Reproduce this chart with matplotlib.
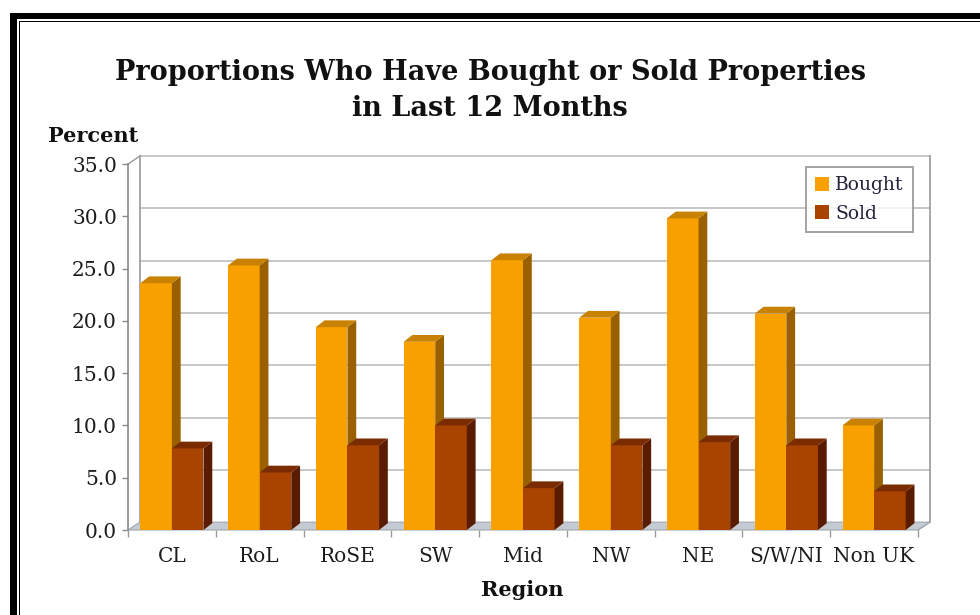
import matplotlib
matplotlib.use('Agg')
import matplotlib.pyplot as plt
from matplotlib.patches import Polygon, Patch, Rectangle

# ── data ────────────────────────────────────────────────────────────────
regions = ['CL', 'RoL', 'RoSE', 'SW', 'Mid', 'NW', 'NE', 'S/W/NI', 'Non UK']
bought = [23.6, 25.3, 19.4, 18.0, 25.8, 20.3, 29.8, 20.7, 10.0]
sold = [7.8, 5.5, 8.1, 10.0, 4.0, 8.1, 8.4, 8.1, 3.7]
yticks = [0, 5, 10, 15, 20, 25, 30, 35]

W, H, DPI = 980, 615, 100
fig = plt.figure(figsize=(W / DPI, H / DPI), dpi=DPI, facecolor='white')

SERIF = 'DejaVu Serif'
INK = '#1c1c1c'

def px_axes(x0, y0, x1, y1):
    # axes box given in image pixels (y down)
    return fig.add_axes([x0 / W, 1 - y1 / H, (x1 - x0) / W, (y1 - y0) / H])

# ── outer frame (thick + thin black line, top and left) ────────────────
frame = fig.add_axes([0, 0, 1, 1])
frame.set_xlim(0, W)
frame.set_ylim(H, 0)
frame.axis('off')
frame.add_patch(Rectangle((10, 13), W, 6, fc='black', ec='none'))
frame.add_patch(Rectangle((10, 13), 7, H, fc='black', ec='none'))
frame.add_patch(Rectangle((18.5, 20.5), W, 1.4, fc='black', ec='none'))
frame.add_patch(Rectangle((18.5, 20.5), 1.4, H, fc='black', ec='none'))

# ── plot area ───────────────────────────────────────────────────────────
ax = px_axes(128, 164, 918, 530)
n = len(regions)
ax.set_xlim(0, n)
ax.set_ylim(0, 35)
ax.patch.set_alpha(0)

DXW, DYW = 0.135, 0.75     # back-wall depth offset
DX, DY = 0.10, 0.65        # bar depth offset
BW = 0.36
GRID = '#b8b8b8'

# back wall grid + edges
for v in yticks[1:]:
    ax.plot([DXW, n + DXW], [v + DYW, v + DYW], color=GRID, lw=1.1, zorder=1,
            clip_on=False)
ax.plot([DXW, DXW], [DYW, 35 + DYW], color='#9a9a9a', lw=1.2, zorder=1, clip_on=False)
ax.plot([n + DXW, n + DXW], [DYW, 35 + DYW], color='#9a9a9a', lw=1.2, zorder=1,
        clip_on=False)
ax.plot([0, DXW], [35, 35 + DYW], color='#9a9a9a', lw=1.0, zorder=1, clip_on=False)
ax.plot([n, n + DXW], [0, DYW], color='#9a9a9a', lw=1.0, zorder=1, clip_on=False)

# floor
ax.add_patch(Polygon([(0, 0), (n, 0), (n + DXW, DYW), (DXW, DYW)],
                     closed=True, fc='#c3cad2', ec='#a0a7ae', lw=0.8, zorder=1.5,
                     clip_on=False))

def bar3d(x, v, front, side, top):
    ax.bar(x, v, width=BW, align='edge', color=front, edgecolor='none', zorder=3)
    ax.add_patch(Polygon([(x + BW, 0), (x + BW + DX, DY), (x + BW + DX, v + DY),
                          (x + BW, v)], closed=True, fc=side, ec='none', zorder=3,
                         clip_on=False))
    ax.add_patch(Polygon([(x, v), (x + BW, v), (x + BW + DX, v + DY), (x + DX, v + DY)],
                         closed=True, fc=top, ec='none', zorder=3, clip_on=False))

for i in range(n):
    c = i + 0.5
    bar3d(c - BW, bought[i], '#f7a000', '#9a6000', '#c98200')
    bar3d(c, sold[i], '#a84300', '#5a1c00', '#7a2c00')

# axes styling
for s in ('top', 'right'):
    ax.spines[s].set_visible(False)
ax.spines['left'].set_color('#8a8a8a')
ax.spines['bottom'].set_visible(False)
ax.spines['left'].set_linewidth(1.2)

ax.set_yticks(yticks)
ax.set_yticklabels([f'{v:.1f}' for v in yticks], fontsize=14.5, family=SERIF, color=INK)
ax.tick_params(axis='y', length=4, width=1, color='#8a8a8a', pad=4)
ax.set_xticks([i + 0.5 for i in range(n)])
ax.set_xticklabels(regions, fontsize=14.5, family=SERIF, color=INK)
ax.tick_params(axis='x', length=0, pad=12)
ax.set_xticks(range(n + 1), minor=True)
ax.tick_params(axis='x', which='minor', length=5, width=1, color='#9a9a9a')

# legend
handles = [Patch(fc='#f7a000', ec='none', label='Bought'),
           Patch(fc='#a84300', ec='none', label='Sold')]
leg = ax.legend(handles=handles, loc='upper left',
                bbox_to_anchor=(806 / W, 1 - 167 / H), bbox_transform=fig.transFigure,
                prop={'family': SERIF, 'size': 13.5}, frameon=True, fancybox=False,
                handlelength=0.75, handleheight=0.75, handletextpad=0.3,
                borderpad=0.5, labelspacing=0.55, borderaxespad=0)
leg.get_frame().set_edgecolor('#8c8c8c')
leg.get_frame().set_linewidth(1.4)
for t in leg.get_texts():
    t.set_color('#22223a')

# ── titles ──────────────────────────────────────────────────────────────
frame.text(490, 72, 'Proportions Who Have Bought or Sold Properties', fontsize=19.5,
           fontweight='bold', family=SERIF, color='#111111', ha='center', va='center')
frame.text(490, 109, 'in Last 12 Months', fontsize=19.5, fontweight='bold',
           family=SERIF, color='#111111', ha='center', va='center')
frame.text(48, 136, 'Percent', fontsize=15, fontweight='bold', family=SERIF,
           color='#111111', ha='left', va='center')
frame.text(522, 590, 'Region', fontsize=15, fontweight='bold', family=SERIF,
           color='#111111', ha='center', va='center')

fig.savefig('out.png', dpi=DPI, facecolor='white')
